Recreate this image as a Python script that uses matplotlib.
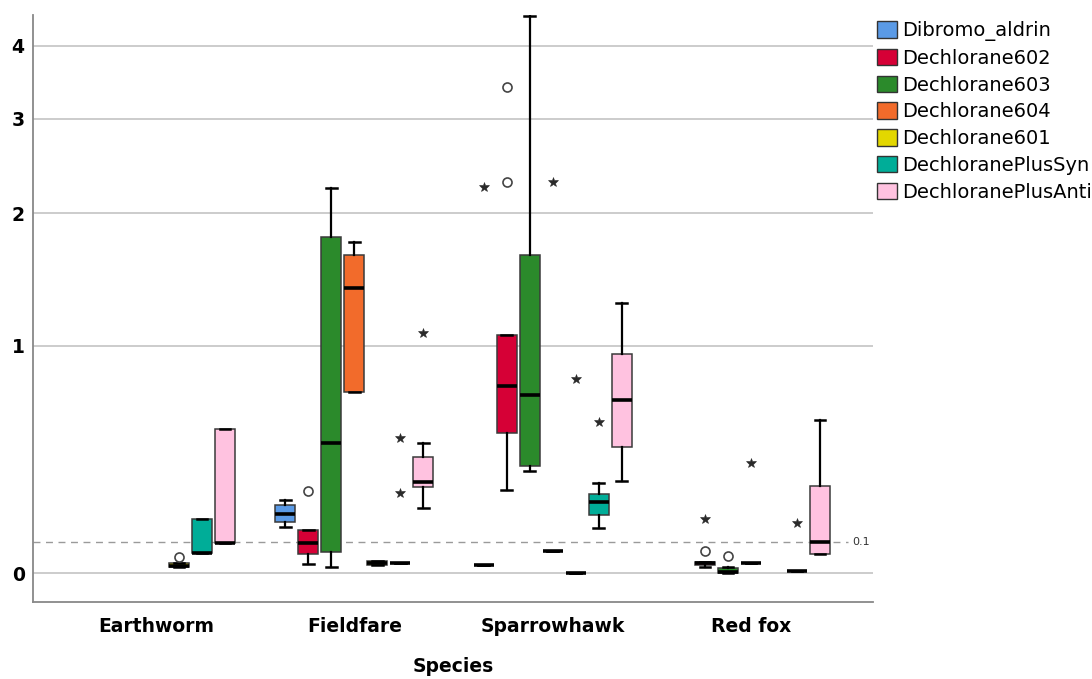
import numpy as np
import matplotlib
matplotlib.use("Agg")
import matplotlib.pyplot as plt
from matplotlib.patches import Patch

species = ["Earthworm", "Fieldfare", "Sparrowhawk", "Red fox"]
compounds = ["Dibromo_aldrin", "Dechlorane602", "Dechlorane603", "Dechlorane604",
             "Dechlorane601", "DechloranePlusSyn", "DechloranePlusAnti"]
colors = ["#5a9ae6", "#d60036", "#2b8a2b", "#f26b2b", "#e3d700", "#00ad98", "#ffc2e0"]

# five-number summaries per species: [whisker low, Q1, median, Q3, whisker high]
dibromo_aldrin = [None,
                  [0.152, 0.169, 0.197, 0.232, 0.250],
                  [0.026, 0.026, 0.026, 0.026, 0.026],
                  None]
dechlorane602 = [None,
                 [0.027, 0.060, 0.097, 0.139, 0.139],
                 [0.288, 0.531, 0.771, 1.067, 1.067],
                 [0.020, 0.024, 0.031, 0.035, 0.035]]
dechlorane603 = [None,
                 [0.019, 0.067, 0.488, 1.785, 2.234],
                 [0.365, 0.386, 0.720, 1.636, 4.474],
                 [0.000, 0.000, 0.004, 0.016, 0.019]]
dechlorane604 = [None,
                 [0.735, 0.735, 1.388, 1.641, 1.748],
                 [0.070, 0.070, 0.070, 0.070, 0.070],
                 [0.031, 0.031, 0.031, 0.031, 0.031]]
dechlorane601 = [[0.018, 0.018, 0.022, 0.030, 0.030],
                 [0.024, 0.026, 0.030, 0.036, 0.036],
                 [0.001, 0.001, 0.001, 0.001, 0.001],
                 None]
dechlorane_plus_syn = [[0.064, 0.064, 0.064, 0.179, 0.179],
                       [0.032, 0.032, 0.032, 0.032, 0.032],
                       [0.146, 0.193, 0.242, 0.273, 0.315],
                       [0.006, 0.006, 0.006, 0.006, 0.006]]
dechlorane_plus_anti = [[0.095, 0.095, 0.095, 0.550, 0.550],
                        [0.218, 0.301, 0.321, 0.426, 0.487],
                        [0.325, 0.469, 0.697, 0.951, 1.279],
                        [0.059, 0.059, 0.098, 0.305, 0.595]]
summaries = [dibromo_aldrin, dechlorane602, dechlorane603, dechlorane604,
             dechlorane601, dechlorane_plus_syn, dechlorane_plus_anti]

# outliers (circles) and extreme values (stars): compound index, species index, value
circle_comp = [4, 1, 1, 1, 1, 2]
circle_spec = [0, 1, 2, 2, 3, 3]
circle_vals = [0.049, 0.285, 3.408, 2.299, 0.070, 0.054]

star_comp = [5, 5, 6, 0, 3, 4, 5, 1, 3, 5]
star_spec = [1, 1, 1, 2, 2, 2, 2, 3, 3, 3]
star_vals = [0.508, 0.275, 1.080, 2.243, 2.299, 0.806, 0.587, 0.179, 0.398, 0.166]

yticks = [0, 1, 2, 3, 4]
ref_value = 0.1

slot = 0.116
box_w = 0.101

fig = plt.figure(figsize=(10.92, 6.79), dpi=100)
ax = fig.add_axes([33 / 1092, 1 - 602 / 679, (873 - 33) / 1092, (602 - 15) / 679])
ax.set_yscale('function', functions=(np.log1p, np.expm1))
ax.set_ylim(-0.0847, 4.49)
ax.set_xlim(-0.62, 3.615)

for yt in yticks:
    ax.axhline(yt, color="#c8c8c8", lw=1.3, zorder=0)
ax.plot([-0.62, 3.49], [ref_value, ref_value], color="#9a9a9a", lw=1.0,
        ls=(0, (5, 4)), zorder=0.5)
ax.text(3.51, ref_value, "0.1", fontsize=8, color="#333333", va="center", ha="left",
        family="DejaVu Sans")

for ci, (summ, col) in enumerate(zip(summaries, colors)):
    stats, pos = [], []
    for si, s in enumerate(summ):
        if s is None:
            continue
        stats.append(dict(whislo=s[0], q1=s[1], med=s[2], q3=s[3], whishi=s[4], fliers=[]))
        pos.append(si + (ci - 3) * slot)
    ax.bxp(stats, positions=pos, widths=box_w, patch_artist=True, showfliers=False,
           capwidths=0.055, manage_ticks=False,
           boxprops=dict(facecolor=col, edgecolor="#3a3a3a", lw=1.1),
           medianprops=dict(color="black", lw=2.6),
           whiskerprops=dict(color="black", lw=1.6),
           capprops=dict(color="black", lw=1.8), zorder=3)

cx = [s + (c - 3) * slot for c, s in zip(circle_comp, circle_spec)]
ax.plot(cx, circle_vals, ls="none", marker="o", ms=6.5, mfc="white", mec="#444444",
        mew=1.2, zorder=4)
sx = [s + (c - 3) * slot for c, s in zip(star_comp, star_spec)]
ax.plot(sx, star_vals, ls="none", marker="*", ms=7, color="#2a2a2a", mew=0.4, zorder=4)

ax.set_xticks(range(len(species)))
ax.set_xticklabels(species, fontsize=13.5, fontweight="bold", family="DejaVu Sans")
ax.set_yticks(yticks)
ax.set_yticklabels([str(v) for v in yticks], fontsize=13.5, fontweight="bold",
                   family="DejaVu Sans")
ax.minorticks_off()
ax.tick_params(axis="both", length=0)
ax.tick_params(axis="x", pad=11)
ax.tick_params(axis="y", pad=6)
ax.set_xlabel("Species", fontsize=13.5, fontweight="bold", family="DejaVu Sans",
              labelpad=15)

for side in ["top", "right"]:
    ax.spines[side].set_visible(False)
for side in ["left", "bottom"]:
    ax.spines[side].set_color("#888888")
    ax.spines[side].set_linewidth(1.3)

handles = [Patch(facecolor=c, edgecolor="#333333", lw=1.0, label=n)
           for c, n in zip(colors, compounds)]
fig.legend(handles=handles, loc="upper left",
           bbox_to_anchor=(877 / 1092, 1 - 21 / 679), frameon=False,
           prop=dict(family="DejaVu Sans", size=14), borderpad=0, borderaxespad=0,
           handlelength=1.03, handleheight=0.93, handletextpad=0.25, labelspacing=0.40)

fig.savefig("out.png", dpi=100, facecolor="white")
